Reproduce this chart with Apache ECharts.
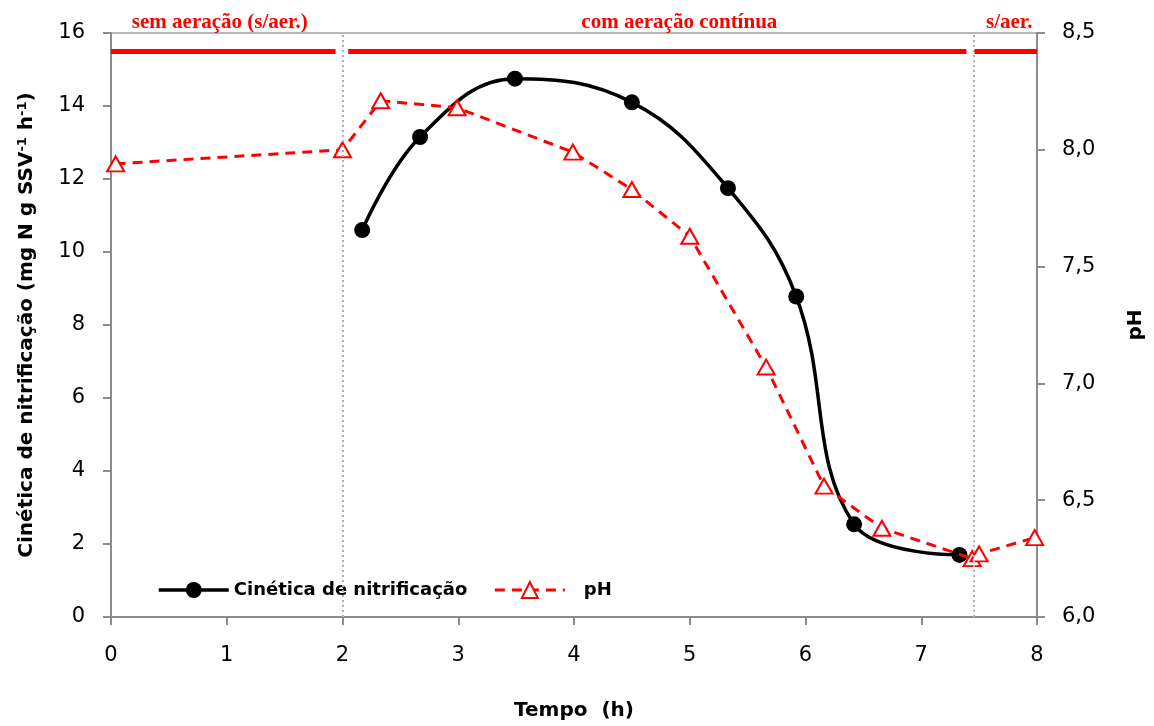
<!DOCTYPE html>
<html>
<head>
<meta charset="utf-8">
<script src="https://cdn.jsdelivr.net/npm/echarts@6/dist/echarts.min.js"></script>
<style>
  html, body { margin: 0; padding: 0; background: #fff; }
  #chart { width: 1154px; height: 726px; }
</style>
</head>
<body>
<div id="chart"></div>
<script>
// Nitrification rate (mg N g SSV-1 h-1) against time (h)
const rateTime = [2.17, 2.67, 3.49, 4.50, 5.33, 5.92, 6.42, 7.33];
const rateValues = [10.6, 13.15, 14.75, 14.1, 11.75, 8.78, 2.54, 1.70];

// pH against time (h)
const phTime = [0.04, 2.0, 2.33, 2.99, 3.99, 4.50, 5.00, 5.66, 6.16, 6.66, 7.44, 7.50, 7.98];
const phValues = [7.94, 8.00, 8.21, 8.18, 7.99, 7.83, 7.63, 7.07, 6.56, 6.38, 6.25, 6.27, 6.34];

// Aeration phase boundaries (h) and the phase bars drawn at the top
const phaseBoundaries = [2.0, 7.45];
const phaseBarLevel = 15.5;
const phaseBars = [[0, 1.94], [2.05, 7.39], [7.46, 8]];
const phaseLabels = [
  { text: 'sem aeração (s/aer.)', at: 0.94 },
  { text: 'com aeração contínua', at: 4.91 },
  { text: 's/aer.', at: 7.76 }
];

const xTicks = { min: 0, max: 8, interval: 1 };
const leftTicks = { min: 0, max: 16, interval: 2 };
const rightTicks = { min: 6.0, max: 8.5, interval: 0.5 };

const sans = 'DejaVu Sans';
const axisGrey = '#8c8c8c';

const chart = echarts.init(document.getElementById('chart'));

const rateData = rateTime.map((t, i) => [t, rateValues[i]]);
const phData = phTime.map((t, i) => [t, phValues[i]]);

const tickLabel = { fontFamily: sans, fontSize: 21, color: '#000' };
const titleText = { fontFamily: sans, fontWeight: 'bold', fontSize: 20, color: '#000' };

chart.setOption({
  animation: false,
  backgroundColor: '#fff',
  grid: {
    left: 111, right: 116, top: 33, bottom: 108,
    show: true, borderColor: '#b8b8b8', borderWidth: 2, backgroundColor: 'transparent'
  },
  legend: {
    left: 152, top: 576,
    itemWidth: 70, itemHeight: 20, itemGap: 26,
    textStyle: {
      fontFamily: sans, fontWeight: 'bold', fontSize: 18, color: '#000',
      rich: { p: { fontFamily: sans, fontWeight: 'bold', fontSize: 18, color: '#000', padding: [0, 0, 0, 14] } }
    },
    formatter: name => name === 'pH' ? '{p|pH}' : name,
    data: [
      { name: 'Cinética de nitrificação', lineStyle: { width: 3.5 } },
      { name: 'pH', lineStyle: { width: 3 } }
    ]
  },
  xAxis: {
    type: 'value', min: xTicks.min, max: xTicks.max, interval: xTicks.interval,
    name: 'Tempo  (h)', nameLocation: 'middle', nameGap: 84,
    nameTextStyle: titleText,
    axisLine: { show: true, lineStyle: { color: axisGrey, width: 2 } },
    axisTick: { show: true, length: 8, lineStyle: { color: axisGrey, width: 2 } },
    axisLabel: Object.assign({ margin: 28 }, tickLabel),
    splitLine: { show: false }
  },
  yAxis: [
    {
      type: 'value', position: 'left',
      min: leftTicks.min, max: leftTicks.max, interval: leftTicks.interval,
      name: '{a|Cinética de nitrificação (mg N g SSV}{s|-1}{a| h}{s|-1}{a|)}',
      nameLocation: 'middle', nameGap: 74, nameRotate: 90,
      nameTextStyle: {
        rich: {
          a: titleText,
          s: { fontFamily: sans, fontWeight: 'bold', fontSize: 13, color: '#000', verticalAlign: 'top', padding: [0, 0, 8, 0] }
        }
      },
      axisLine: { show: true, lineStyle: { color: axisGrey, width: 2 } },
      axisTick: { show: true, length: 8, lineStyle: { color: axisGrey, width: 2 } },
      axisLabel: Object.assign({ margin: 26 }, tickLabel),
      splitLine: { show: false }
    },
    {
      type: 'value', position: 'right',
      min: rightTicks.min, max: rightTicks.max, interval: rightTicks.interval,
      name: 'pH', nameLocation: 'middle', nameGap: 89, nameRotate: 90,
      nameTextStyle: titleText,
      axisLine: { show: true, lineStyle: { color: axisGrey, width: 2 } },
      axisTick: { show: true, length: 8, lineStyle: { color: axisGrey, width: 2 } },
      axisLabel: Object.assign({
        margin: 25,
        formatter: v => v.toFixed(1).replace('.', ',')
      }, tickLabel),
      splitLine: { show: false }
    }
  ],
  series: [
    {
      // phase boundaries and bars
      name: 'fases', type: 'line', yAxisIndex: 0, data: [], silent: true,
      markLine: {
        silent: true, symbol: 'none', label: { show: false },
        animation: false,
        data: phaseBoundaries.map(x => ({
          xAxis: x, lineStyle: { color: '#b0b0b0', type: [2, 3], width: 2 }
        })).concat(phaseBars.map(b => [
          { coord: [b[0], phaseBarLevel], lineStyle: { color: '#ff0000', type: 'solid', width: 5 } },
          { coord: [b[1], phaseBarLevel] }
        ]))
      },
      markPoint: {
        silent: true, symbol: 'rect', symbolSize: 0,
        data: phaseLabels.map(p => ({
          coord: [p.at, leftTicks.max],
          label: {
            show: true, formatter: p.text, position: 'top', distance: 0,
            fontFamily: 'Liberation Serif', fontWeight: 'bold', fontSize: 21, color: '#ff0000'
          }
        }))
      },
      z: 1
    },
    {
      name: 'Cinética de nitrificação', type: 'line', yAxisIndex: 0,
      data: rateData, smooth: 0.4,
      symbol: 'circle', symbolSize: 16,
      itemStyle: { color: '#000' },
      lineStyle: { color: '#000', width: 3.5 },
      z: 3
    },
    {
      name: 'pH', type: 'line', yAxisIndex: 1,
      data: phData, smooth: false,
      symbol: 'triangle', symbolSize: [17, 15],
      itemStyle: { color: '#fff', borderColor: '#ff0000', borderWidth: 2 },
      lineStyle: { color: '#ff0000', width: 3, type: [10, 7] },
      z: 4
    }
  ]
});
</script>
</body>
</html>
